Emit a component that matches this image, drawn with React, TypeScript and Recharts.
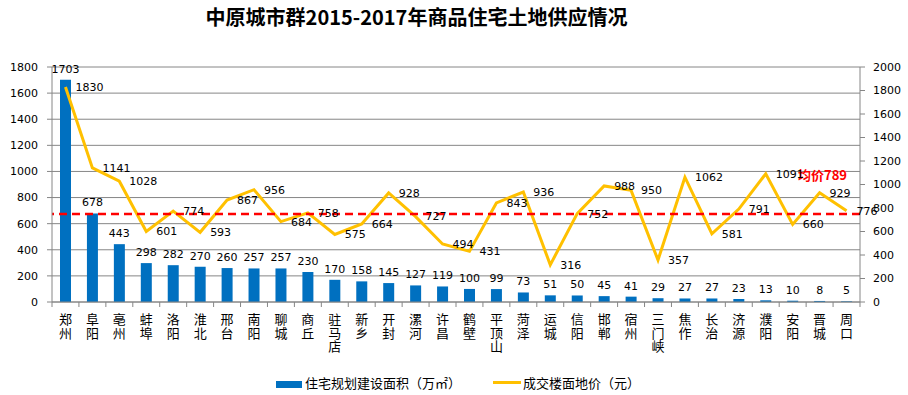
import React from 'react';
import {
  ComposedChart,
  Bar,
  Line,
  XAxis,
  YAxis,
  CartesianGrid,
  ReferenceLine,
  LabelList,
} from 'recharts';

const cities = [
  '郑州', '阜阳', '亳州', '蚌埠', '洛阳', '淮北', '邢台', '南阳', '聊城', '商丘',
  '驻马店', '新乡', '开封', '漯河', '许昌', '鹤壁', '平顶山', '菏泽', '运城', '信阳',
  '邯郸', '宿州', '三门峡', '焦作', '长治', '济源', '濮阳', '安阳', '晋城', '周口',
];
const areaValues = [
  1703, 678, 443, 298, 282, 270, 260, 257, 257, 230,
  170, 158, 145, 127, 119, 100, 99, 73, 51, 50,
  45, 41, 29, 27, 27, 23, 13, 10, 8, 5,
];
const priceValues = [
  1830, 1141, 1028, 601, 774, 593, 867, 956, 684, 758,
  575, 664, 928, 727, 494, 431, 843, 936, 316, 752,
  988, 950, 357, 1062, 581, 791, 1091, 660, 929, 776,
];
const leftTicks = [0, 200, 400, 600, 800, 1000, 1200, 1400, 1600, 1800];
const rightTicks = [0, 200, 400, 600, 800, 1000, 1200, 1400, 1600, 1800, 2000];
const avgLinePos = 750;
const avgText = '均价789';

const title = '中原城市群2015-2017年商品住宅土地供应情况';
const areaName = '住宅规划建设面积（万㎡）';
const priceName = '成交楼面地价（元）';

const W = 908;
const H = 395;
const LEFT_W = 52;
const RIGHT_W = 48;
const STEP = (W - LEFT_W - RIGHT_W) / cities.length;
const GRAY = '#868686';
const NUM_FONT = '"DejaVu Sans", Verdana, sans-serif';
const CJK_FONT = '"Noto Sans CJK SC", "Noto Sans", sans-serif';

const data = cities.map((city, i) => ({
  city,
  area: areaValues[i],
  price: priceValues[i],
}));

// vertical city names + boundary tick marks (excel style)
const CityTick = (props: any) => {
  const { x, y, payload, index } = props;
  return (
    <g>
      <line x1={x - STEP / 2} x2={x - STEP / 2} y1={y} y2={y + 5} stroke={GRAY} />
      {index === cities.length - 1 && (
        <line x1={x + STEP / 2} x2={x + STEP / 2} y1={y} y2={y + 5} stroke={GRAY} />
      )}
      <text
        x={x}
        y={y + 11}
        fontSize={13}
        fontFamily={CJK_FONT}
        fill="#000"
        style={{ writingMode: 'vertical-rl', letterSpacing: 0.4 }}
      >
        {payload.value}
      </text>
    </g>
  );
};

const AvgLabel = (props: any) => {
  const vb = props.viewBox || {};
  return (
    <text
      x={vb.x + vb.width - 13}
      y={vb.y - 34}
      textAnchor="end"
      fontSize={13}
      fontWeight="bold"
      fontFamily={CJK_FONT}
      fill="#FF0000"
    >
      {avgText}
    </text>
  );
};

export default function App() {
  return (
    <div style={{ position: 'relative', width: W, height: H, background: '#fff' }}>
      <style>{'body{margin:0;}'}</style>
      <div
        style={{
          position: 'absolute',
          left: 0,
          top: 2,
          width: 833,
          textAlign: 'center',
          fontFamily: CJK_FONT,
          fontWeight: 'bold',
          fontSize: 20,
          lineHeight: '30px',
          color: '#000',
        }}
      >
        {title}
      </div>

      <ComposedChart
        width={W}
        height={H}
        data={data}
        margin={{ top: 67, right: 0, left: 0, bottom: 0 }}
        barCategoryGap={0}
      >
        <CartesianGrid yAxisId="left" vertical={false} stroke={GRAY} strokeWidth={1} />
        <XAxis
          dataKey="city"
          interval={0}
          height={93}
          tickSize={0}
          tickMargin={0}
          tickLine={false}
          axisLine={{ stroke: GRAY }}
          tick={<CityTick />}
        />
        <YAxis
          yAxisId="left"
          width={LEFT_W}
          domain={[0, 1800]}
          ticks={leftTicks}
          tickSize={5}
          tickMargin={9}
          tickLine={{ stroke: GRAY }}
          axisLine={{ stroke: GRAY }}
          tick={{ fontSize: 11, fill: '#000', fontFamily: NUM_FONT }}
        />
        <YAxis
          yAxisId="right"
          orientation="right"
          width={RIGHT_W}
          domain={[0, 2000]}
          ticks={rightTicks}
          tickSize={5}
          tickMargin={8}
          tickLine={{ stroke: GRAY }}
          axisLine={{ stroke: GRAY }}
          tick={{ fontSize: 11, fill: '#000', fontFamily: NUM_FONT }}
        />
        <Bar yAxisId="left" dataKey="area" fill="#0070C0" barSize={11} isAnimationActive={false}>
          <LabelList
            dataKey="area"
            position="top"
            offset={7}
            style={{ fontSize: 11, fill: '#000', fontFamily: NUM_FONT }}
          />
        </Bar>
        <Line
          yAxisId="right"
          dataKey="price"
          stroke="#FFC000"
          strokeWidth={3}
          dot={false}
          activeDot={false}
          isAnimationActive={false}
        >
          <LabelList
            dataKey="price"
            position="right"
            offset={10}
            style={{ fontSize: 11, fill: '#000', fontFamily: NUM_FONT }}
          />
        </Line>
        <ReferenceLine
          yAxisId="right"
          y={avgLinePos}
          stroke="#FF0000"
          strokeWidth={2.5}
          strokeDasharray="8 5"
          label={AvgLabel}
        />
      </ComposedChart>

      <div
        style={{
          position: 'absolute',
          left: 276,
          top: 372,
          display: 'flex',
          alignItems: 'center',
          fontFamily: CJK_FONT,
          fontSize: 13,
          color: '#000',
          height: 20,
        }}
      >
        <span style={{ display: 'inline-block', width: 26, height: 7, background: '#0070C0', marginRight: 3, marginTop: 4 }} />
        <span>{areaName}</span>
        <span style={{ display: 'inline-block', width: 28, height: 3, background: '#FFC000', marginLeft: 32, marginRight: 2 }} />
        <span>{priceName}</span>
      </div>
    </div>
  );
}
